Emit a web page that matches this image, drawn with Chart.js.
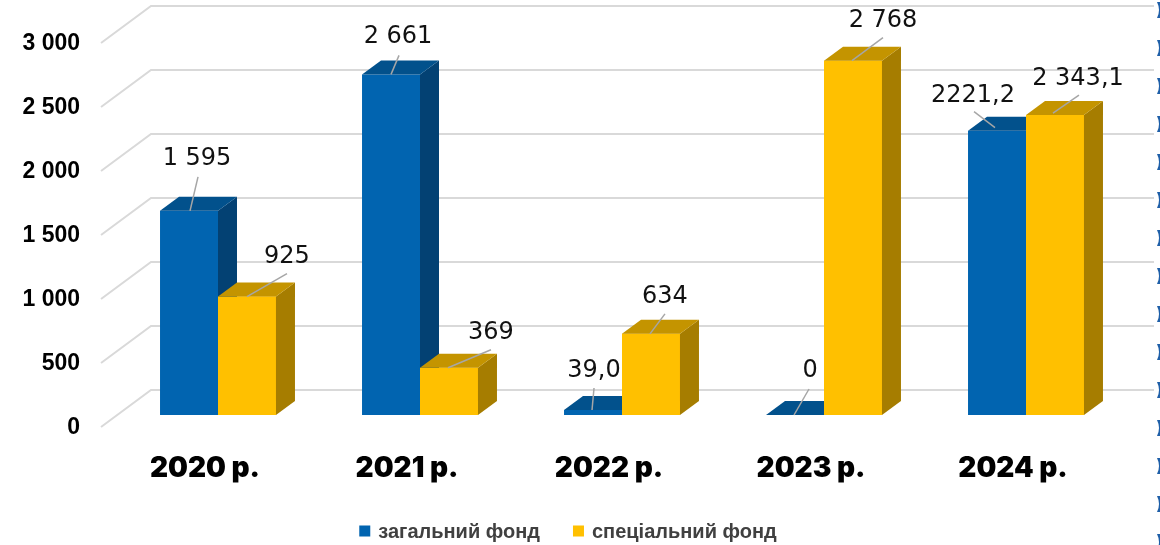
<!DOCTYPE html>
<html><head><meta charset="utf-8">
<script src="https://cdn.jsdelivr.net/npm/chart.js@4"></script>
<style>html,body{margin:0;padding:0;background:#fff;overflow:hidden;}canvas{display:block;}</style>
</head><body>
<canvas id="c" width="1160" height="545"></canvas>
<script>
// ---- data ----
const categories = ['2020 р.', '2021 р.', '2022 р.', '2023 р.', '2024 р.'];
const seriesNames = ['загальний фонд', 'спеціальний фонд'];
const generalFund = [1595, 2661, 39.0, 0, 2221.2];
const specialFund = [925, 369, 634, 2768, 2343.1];
const generalLabels = ['1 595', '2 661', '39,0', '0', '2221,2'];
const specialLabels = ['925', '369', '634', '2 768', '2 343,1'];
const yTickValues = [0, 500, 1000, 1500, 2000, 2500, 3000];
const yTickLabels = ['0', '500', '1 000', '1 500', '2 000', '2 500', '3 000'];

// ---- styles ----
const frontColors = ['#0164b0', '#ffc000'];
const topColors = ['#02518c', '#c49400'];
const sideColors = ['#034173', '#a67d00'];
const DEPTH = {dx: 19, dy: 14};     // bar depth
const FRONT = {dx: -16, dy: 12};    // front plane offset from bar plane
const BACK = {dx: 34, dy: -25};     // back wall offset from bar plane
// label placement relative to bar front-top centre: t = text, s = leader start, e = leader end
const labelLayout = [
  [{t:[8,-46], s:[9,-34], e:[1,0]}, {t:[7,-31], s:[8,-19], e:[0,0]}, {t:[1,-33], s:[1,-22], e:[-1,0]}, {t:[15,-38], s:[14,-26], e:[-1,0]}, {t:[-24,-29], s:[-23,-19], e:[-2,-3]}],
  [{t:[40,-34], s:[40,-23], e:[0,0]}, {t:[42,-29], s:[42,-18], e:[-1,0]}, {t:[14,-31], s:[14,-20], e:[-1,0]}, {t:[30,-34], s:[30,-23], e:[-1,0]}, {t:[23,-30], s:[24,-20], e:[-2,-2]}]
];
const valueLabels = [generalLabels, specialLabels];

function face(ctx, pts, color) {
  ctx.beginPath();
  ctx.moveTo(pts[0][0], pts[0][1]);
  for (let i = 1; i < pts.length; i++) ctx.lineTo(pts[i][0], pts[i][1]);
  ctx.closePath();
  ctx.fillStyle = color;
  ctx.fill();
}
function drawSideTop(ctx, bar, di) {
  const p = bar.getProps(['x', 'y', 'base', 'width'], true);
  const l = p.x - p.width / 2, r = p.x + p.width / 2;
  face(ctx, [[r, p.y], [r + DEPTH.dx, p.y - DEPTH.dy], [r + DEPTH.dx, p.base - DEPTH.dy], [r, p.base]], sideColors[di]);
  face(ctx, [[l, p.y], [l + DEPTH.dx, p.y - DEPTH.dy], [r + DEPTH.dx, p.y - DEPTH.dy], [r, p.y]], topColors[di]);
}

const wallPlugin = {
  id: 'wall',
  beforeDatasetsDraw(chart) {
    const {ctx, chartArea} = chart;
    const y = chart.scales.y;
    ctx.save();
    ctx.strokeStyle = '#d9d9d9';
    ctx.lineWidth = 2;
    yTickValues.forEach((v, i) => {
      const py = y.getPixelForValue(v);
      ctx.beginPath();
      ctx.moveTo(chartArea.left + FRONT.dx, py + FRONT.dy);
      ctx.lineTo(chartArea.left + BACK.dx, py + BACK.dy);
      ctx.lineTo(chart.width - 6, py + BACK.dy);
      ctx.stroke();
      ctx.fillStyle = '#000';
      ctx.font = 'bold 23px "Liberation Sans", Arial, sans-serif';
      ctx.textAlign = 'right';
      ctx.textBaseline = 'middle';
      ctx.fillText(yTickLabels[i], chartArea.left - 37, py + FRONT.dy + 1);
    });
    ctx.restore();
  },
  afterDatasetsDraw(chart) {
    const {ctx} = chart;
    const m0 = chart.getDatasetMeta(0), m1 = chart.getDatasetMeta(1);
    ctx.save();
    for (let i = 0; i < categories.length; i++) {
      drawSideTop(ctx, m0.data[i], 0);
      m1.data[i].draw(ctx);
      drawSideTop(ctx, m1.data[i], 1);
    }
    // value labels with leader lines
    [m0, m1].forEach((m, di) => {
      m.data.forEach((bar, i) => {
        const L = labelLayout[di][i];
        const x = bar.x, yy = bar.y;
        ctx.strokeStyle = '#a6a6a6';
        ctx.lineWidth = 1.5;
        ctx.beginPath();
        ctx.moveTo(x + L.s[0], yy + L.s[1]);
        ctx.lineTo(x + L.e[0], yy + L.e[1]);
        ctx.stroke();
        ctx.fillStyle = '#111';
        ctx.font = '24px "DejaVu Sans", sans-serif';
        ctx.textAlign = 'center';
        ctx.textBaseline = 'alphabetic';
        ctx.fillText(valueLabels[di][i], x + L.t[0], yy + L.t[1]);
      });
    });
    ctx.restore();
  },
  afterDraw(chart) {
    const {ctx} = chart;
    ctx.save();
    // legend
    ctx.font = 'bold 20px "Liberation Sans", Arial, sans-serif';
    ctx.textBaseline = 'middle';
    ctx.textAlign = 'left';
    const box = 11, gapBT = 8, gapItems = 33;
    const w = chart.data.datasets.map(d => ctx.measureText(d.label).width);
    const total = box + gapBT + w[0] + gapItems + box + gapBT + w[1];
    let x = 568 - total / 2;
    const cy = 531;
    chart.data.datasets.forEach((d, i) => {
      ctx.fillStyle = d.backgroundColor;
      ctx.fillRect(x, cy - box / 2, box, box);
      ctx.fillStyle = '#404040';
      ctx.fillText(d.label, x + box + gapBT, cy + 1);
      x += box + gapBT + w[i] + gapItems;
    });
    // decorative border on the right edge
    ctx.fillStyle = '#1f5fa8';
    for (let yy = 0; yy < chart.height; yy += 38) {
      ctx.beginPath();
      ctx.moveTo(1157, yy + 2); ctx.quadraticCurveTo(1161, yy + 10, 1157, yy + 18);
      ctx.lineTo(1160, yy + 18); ctx.lineTo(1160, yy + 2); ctx.closePath();
      ctx.fill();
    }
    ctx.restore();
  }
};

new Chart(document.getElementById('c'), {
  type: 'bar',
  data: {
    labels: categories,
    datasets: [
      {label: seriesNames[0], data: generalFund, backgroundColor: frontColors[0], borderWidth: 0},
      {label: seriesNames[1], data: specialFund, backgroundColor: frontColors[1], borderWidth: 0}
    ]
  },
  options: {
    responsive: false,
    animation: false,
    events: [],
    layout: {padding: {left: 0, right: 24, top: 31, bottom: 54}},
    datasets: {bar: {barPercentage: 1, categoryPercentage: 0.574}},
    scales: {
      x: {
        grid: {display: false, drawTicks: false},
        border: {display: false},
        ticks: {
          color: '#000',
          font: {family: 'Inter, "DejaVu Sans", sans-serif', weight: 900, size: 28},
          padding: 37,
          labelOffset: -13,
          maxRotation: 0
        },
        afterFit(s) { s.height = 76; }
      },
      y: {
        min: 0, max: 3000,
        grid: {display: false, drawTicks: false},
        border: {display: false},
        ticks: {display: false, stepSize: 500},
        afterFit(s) { s.width = 117; }
      },
      yR: {
        position: 'right',
        grid: {display: false, drawTicks: false},
        border: {display: false},
        ticks: {display: false},
        afterFit(s) { s.width = 9; }
      }
    },
    plugins: {
      legend: {display: false},
      tooltip: {enabled: false}
    }
  },
  plugins: [wallPlugin]
});
</script>
</body></html>
